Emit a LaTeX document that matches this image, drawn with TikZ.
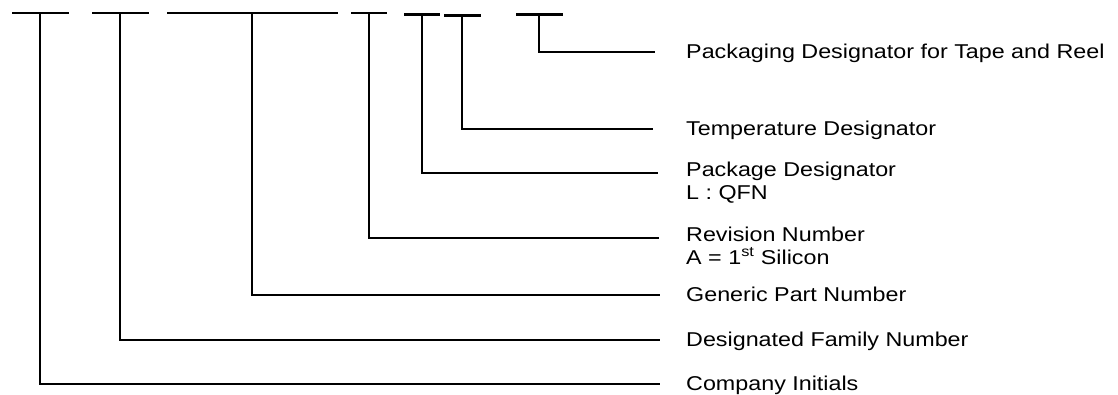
\documentclass[tikz,border=0pt]{standalone}
\usepackage{fontspec}
\setmainfont{Liberation Sans}[FakeStretch=1.165]
\begin{document}
\begin{tikzpicture}[x=1pt,y=-1pt,
  bar/.style={line width=2.8pt},
  dashbar/.style={fill=black, inner sep=0pt, minimum height=2.8pt},
  lbl/.style={anchor=base west, inner sep=0pt, font=\fontsize{20}{23.5}\selectfont, align=left}]
\useasboundingbox (0,0) rectangle (1118,394);
% top dashes
\node[dashbar, minimum width=57pt] (t1) at (40,13) {};
\node[dashbar, minimum width=57pt] (t2) at (120,13) {};
\node[dashbar, minimum width=171pt] (t3) at (252,13) {};
\node[dashbar, minimum width=36pt] (t4) at (369,13) {};
\node[dashbar, minimum width=36pt] (t5) at (422,14.5) {};
\node[dashbar, minimum width=37pt] (t6) at (462,15.5) {};
\node[dashbar, minimum width=47pt] (t7) at (539,14.5) {};
% labels (placed at last baseline)
\node[lbl] (pk) at (686,58) {Packaging Designator for Tape and Reel};
\node[lbl] (tm) at (686,135) {Temperature Designator};
\node[lbl] (pd) at (686,199.5) {Package Designator\\L : QFN};
\node[lbl] (rv) at (686,264.5) {Revision Number\\A = 1\textsuperscript{st} Silicon};
\node[lbl] (gp) at (686,301) {Generic Part Number};
\node[lbl] (df) at (686,346) {Designated Family Number};
\node[lbl] (ci) at (686,390) {Company Initials};
% connectors
\draw[bar] (t1.center) |- ([xshift=-26pt,yshift=6pt]ci.base west);
\draw[bar] (t2.center) |- ([xshift=-26pt,yshift=6pt]df.base west);
\draw[bar] (t3.center) |- ([xshift=-26pt,yshift=6pt]gp.base west);
\draw[bar] (t4.center) |- ([xshift=-27pt,yshift=26.5pt]rv.base west);
\draw[bar] (t5.center) |- ([xshift=-28pt,yshift=26.5pt]pd.base west);
\draw[bar] (t6.center) |- ([xshift=-33pt,yshift=6pt]tm.base west);
\draw[bar] (t7.center) |- ([xshift=-31pt,yshift=6pt]pk.base west);
\end{tikzpicture}
\end{document}
